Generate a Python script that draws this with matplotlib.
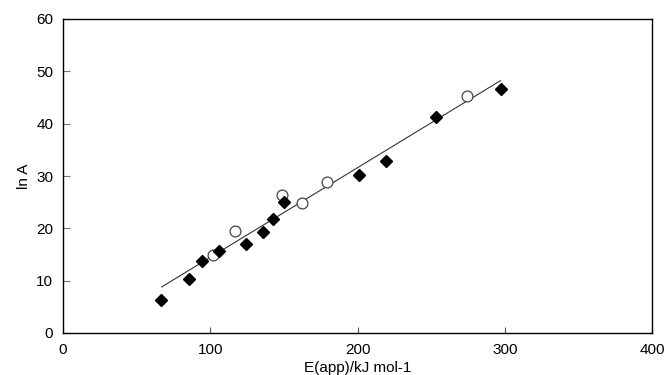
import matplotlib
matplotlib.use('Agg')
import matplotlib.pyplot as plt

plt.rcParams['font.family'] = ['Liberation Sans', 'DejaVu Sans']

# 實心菱形
filled_x = [66.8, 85.6, 94.6, 106, 124, 135.6, 142.4, 150.3, 201.2, 219.4, 253.1, 297.2]
filled_y = [6.4, 10.4, 13.7, 15.6, 17.1, 19.3, 21.7, 25.1, 30.2, 32.9, 41.3, 46.7]

# 空心圓
open_x = [102, 116.8, 148.5, 162.1, 179.5, 274.1]
open_y = [15.0, 19.4, 26.3, 24.8, 28.9, 45.3]

# 迴歸線端點
fit_x = [67, 297]
fit_y = [8.8, 48.2]

fig = plt.figure(figsize=(6.65, 3.75), dpi=100)
ax = fig.add_axes([63 / 665, 1 - 333 / 375, (652 - 63) / 665, (333 - 19) / 375])

ax.plot(fit_x, fit_y, '-', color='#333333', lw=0.8, zorder=1)
ax.plot(filled_x, filled_y, 'D', color='black', markersize=6.5, zorder=3)
ax.plot(open_x, open_y, 'o', markerfacecolor='white', markeredgecolor='#444444',
        markeredgewidth=0.9, markersize=7.8, zorder=2)

ax.set_xlim(0, 400)
ax.set_ylim(0, 60)
ax.set_xticks([0, 100, 200, 300, 400])
ax.set_yticks([0, 10, 20, 30, 40, 50, 60])
ax.tick_params(axis='x', direction='in', length=4, width=0.8, color='#555555',
               labelsize=11, pad=7)
ax.tick_params(axis='y', direction='in', length=5, width=0.8, color='#777777',
               labelsize=11, pad=7)
for s in ax.spines.values():
    s.set_linewidth(1.0)

ax.set_xlabel('E(app)/kJ mol-1', fontsize=11, labelpad=3)
ax.set_ylabel('ln A', fontsize=11, labelpad=4)

plt.savefig('out.png', dpi=100)
